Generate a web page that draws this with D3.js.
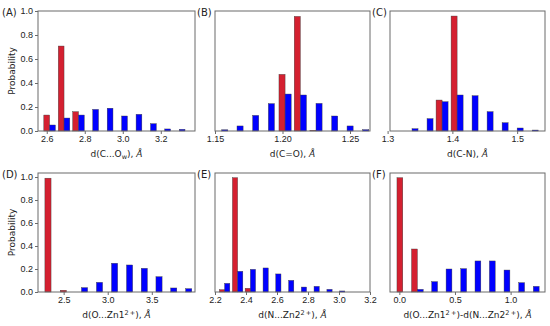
<!DOCTYPE html>
<html>
<head>
<meta charset="utf-8">
<script src="https://cdn.jsdelivr.net/npm/d3@7"></script>
<style>
  body { margin: 0; background: #fff; }
  svg { display: block; font-family: "DejaVu Sans", sans-serif; }
  .frame { fill: none; stroke: #6a6a6a; stroke-width: 1; }
  .tick line { stroke: #6a6a6a; }
  .tick text { fill: #222; font-size: 9px; }
  .domain { display: none; }
</style>
</head>
<body>
<script>
(function(){

//bin centres (in angstrom) and probabilities, red = first set, blue = second set
var binsA = [2.615, 2.691, 2.767, 2.842, 2.918, 2.994, 3.070, 3.146, 3.221, 3.297];
var redA  = [0.133, 0.708, 0.161, 0, 0, 0, 0, 0, 0, 0];
var blueA = [0.050, 0.108, 0.133, 0.180, 0.190, 0.125, 0.139, 0.061, 0.017, 0.014];

var binsB = [1.1550, 1.1663, 1.1779, 1.1895, 1.2019, 1.2132, 1.2248, 1.2364, 1.2478, 1.2594];
var redB  = [0, 0, 0, 0, 0.472, 0.955, 0.005, 0, 0, 0];
var blueB = [0.010, 0.042, 0.130, 0.228, 0.308, 0.300, 0.230, 0.125, 0.042, 0.011];

var binsC = [1.3377, 1.3609, 1.3841, 1.4073, 1.4304, 1.4536, 1.4768, 1.5000, 1.5232];
var redC  = [0, 0, 0.258, 0.958, 0, 0, 0, 0, 0];
var blueC = [0.019, 0.103, 0.244, 0.300, 0.294, 0.161, 0.069, 0.025, 0.008];

var binsD = [2.357, 2.531, 2.702, 2.872, 3.043, 3.213, 3.380, 3.547, 3.714, 3.884];
var redD  = [0.990, 0.015, 0, 0, 0, 0, 0, 0, 0, 0];
var blueD = [0, 0, 0.038, 0.084, 0.250, 0.235, 0.206, 0.133, 0.035, 0.029];

var binsE = [2.262, 2.346, 2.428, 2.510, 2.592, 2.675, 2.757, 2.839, 2.922, 3.004];
var redE  = [0.020, 0.994, 0.032, 0, 0, 0, 0, 0, 0, 0];
var blueE = [0.075, 0.180, 0.197, 0.209, 0.157, 0.101, 0.043, 0.049, 0.023, 0.009];

var binsF = [0.031, 0.162, 0.291, 0.420, 0.552, 0.680, 0.809, 0.941, 1.073, 1.204];
var redF  = [0.994, 0.374, 0, 0, 0, 0, 0, 0, 0, 0];
var blueF = [0, 0.023, 0.090, 0.200, 0.203, 0.270, 0.270, 0.191, 0.081, 0.049];

//x ranges and tick values of each panel
var xRangeA = [2.554, 3.38],  xTicksA = [2.6, 2.8, 3.0, 3.2];
var xRangeB = [1.15, 1.2648], xTicksB = [1.15, 1.20, 1.25];
var xRangeC = [1.3037, 1.543], xTicksC = [1.3, 1.4, 1.5];
var xRangeD = [2.209, 3.99],  xTicksD = [2.5, 3.0, 3.5];
var xRangeE = [2.2, 3.2],     xTicksE = [2.2, 2.4, 2.6, 2.8, 3.0, 3.2];
var xRangeF = [-0.084, 1.309], xTicksF = [0.0, 0.5, 1.0];

var yTicks = [0.0, 0.2, 0.4, 0.6, 0.8, 1.0];
var yTopRow = 1.0, yBottomRow = 1.035;

var panelLetters = ["(A)", "(B)", "(C)", "(D)", "(E)", "(F)"];

//axis titles as text pieces (sub / sup / italic)
var titleA = [{t:"d(C...O"}, {t:"w", sub:true}, {t:"), "}, {t:"Å", it:true}];
var titleB = [{t:"d(C=O), "}, {t:"Å", it:true}];
var titleC = [{t:"d(C-N), "}, {t:"Å", it:true}];
var titleD = [{t:"d(O...Zn1"}, {t:"2\u2009+", sup:true}, {t:"), "}, {t:"Å", it:true}];
var titleE = [{t:"d(N...Zn2"}, {t:"2\u2009+", sup:true}, {t:"), "}, {t:"Å", it:true}];
var titleF = [{t:"d(O...Zn1"}, {t:"2\u2009+", sup:true}, {t:")-d(N...Zn2"}, {t:"2\u2009+", sup:true}, {t:"), "}, {t:"Å", it:true}];

var width = 550, height = 326;
var colLeft = [38, 215, 390], colRight = [195, 370, 545];
var rowTop = [11, 173], rowBottom = [131, 292];

var panels = [
	{bins: binsA, red: redA, blue: blueA, xr: xRangeA, xt: xTicksA, title: titleA, ymax: yTopRow},
	{bins: binsB, red: redB, blue: blueB, xr: xRangeB, xt: xTicksB, title: titleB, ymax: yTopRow},
	{bins: binsC, red: redC, blue: blueC, xr: xRangeC, xt: xTicksC, title: titleC, ymax: yTopRow},
	{bins: binsD, red: redD, blue: blueD, xr: xRangeD, xt: xTicksD, title: titleD, ymax: yBottomRow},
	{bins: binsE, red: redE, blue: blueE, xr: xRangeE, xt: xTicksE, title: titleE, ymax: yBottomRow},
	{bins: binsF, red: redF, blue: blueF, xr: xRangeF, xt: xTicksF, title: titleF, ymax: yBottomRow}
];

var svg = d3.select("body")
	.append("svg")
	.attr("width", width)
	.attr("height", height);

panels.forEach(function(p, i){
	var col = i % 3, row = Math.floor(i / 3);
	var x0 = colLeft[col], x1 = colRight[col], y0 = rowTop[row], y1 = rowBottom[row];

	var x = d3.scaleLinear().domain(p.xr).range([x0, x1]);
	var y = d3.scaleLinear().domain([0, p.ymax]).range([y1, y0]);

	//two bars share a bin, each 40% of the bin width
	var step = p.bins[1] - p.bins[0];
	var barW = step * 0.4;

	var g = svg.append("g");

	var sets = [
		{vals: p.red, fill: "#d42030", off: -barW},
		{vals: p.blue, fill: "#0000ff", off: 0}
	];
	sets.forEach(function(s){
		g.selectAll(null)
			.data(p.bins.map(function(b, k){ return {c: b, v: s.vals[k]}; }).filter(function(d){ return d.v > 0; }))
			.enter()
			.append("rect")
			.attr("x", function(d){ return x(d.c + s.off); })
			.attr("width", function(d){ return x(d.c + s.off + barW) - x(d.c + s.off); })
			.attr("y", function(d){ return y(d.v); })
			.attr("height", function(d){ return y(0) - y(d.v); })
			.attr("fill", s.fill)
			.attr("stroke", "#3a3a3a")
			.attr("stroke-width", 0.4);
	});

	//frame
	g.append("rect")
		.attr("class", "frame")
		.attr("x", x0).attr("y", y0)
		.attr("width", x1 - x0).attr("height", y1 - y0);

	//x axis
	g.append("g")
		.attr("transform", "translate(0," + y1 + ")")
		.call(d3.axisBottom(x).tickValues(p.xt).tickSize(3).tickPadding(2)
			.tickFormat(d3.format(i == 1 ? ".2f" : ".1f")));

	//y axis only in the first column
	if (col == 0){
		g.append("g")
			.attr("transform", "translate(" + x0 + ",0)")
			.call(d3.axisLeft(y).tickValues(yTicks).tickSize(3).tickPadding(2).tickFormat(d3.format(".1f")));
		svg.append("text")
			.attr("transform", "translate(12," + ((y0 + y1) / 2) + ") rotate(-90)")
			.attr("text-anchor", "middle")
			.attr("dy", "0.35em")
			.attr("font-size", 9)
			.attr("fill", "#222")
			.text("Probability");
	}

	//axis title
	var t = svg.append("text")
		.attr("x", (x0 + x1) / 2)
		.attr("y", y1 + 25.5)
		.attr("text-anchor", "middle")
		.attr("font-size", 9)
		.attr("fill", "#222");
	p.title.forEach(function(part){
		var ts = t.append("tspan").text(part.t);
		if (part.sub) ts.attr("font-size", 6.5).attr("baseline-shift", "-25%");
		if (part.sup) ts.attr("font-size", 6.5).attr("baseline-shift", "45%");
		if (part.it) ts.attr("font-style", "italic");
	});

	//panel letter
	svg.append("text")
		.attr("x", x0 - 38 + (col == 0 ? 2 : 20))
		.attr("y", y0 + 5)
		.attr("font-size", 10)
		.attr("fill", "#222")
		.text(panelLetters[i]);
});

})();
</script>
</body>
</html>
